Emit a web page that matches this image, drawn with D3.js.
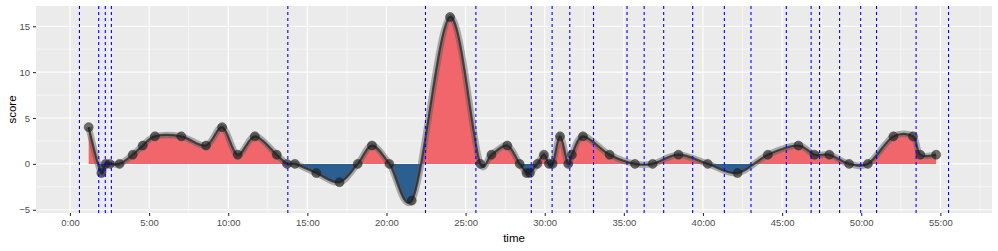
<!DOCTYPE html>
<html>
<head>
<meta charset="utf-8">
<script src="https://cdn.jsdelivr.net/npm/d3@7"></script>
<style>
  body { margin: 0; background: #fff; }
  svg { display: block; }
</style>
</head>
<body>
<svg id="chart" width="998" height="251"></svg>
<script>
// data (time as m:ss)
var pointTimes = ["1:11","1:59","2:15","2:31","3:08","3:58","4:36","5:22","7:02","8:36",
  "9:37","10:36","11:41","13:04","13:43","14:13","15:34","17:02","18:11","19:05",
  "20:11","21:36","24:01","25:56","26:38","27:38","28:25","28:51","29:04","29:32",
  "29:57","30:16","30:30","30:58","31:29","31:43","32:25","34:06","35:42","36:49",
  "38:27","40:18","42:11","44:06","46:02","47:03","47:59","49:14","50:25","52:02",
  "53:16","53:44","54:44"];
var pointScores = [4,-1,0,0,0,1,2,3,3,2,
  4,1,3,1,0,0,-1,-2,0,2,
  0,-4,16,0,1,2,0,-1,-1,0,
  1,0,0,3,0,1,3,1,0,0,
  1,0,-1,1,2,1,1,0,0,3,
  3,1,1];
var markerTimes = ["0:36","1:49","2:14","2:37","13:46","22:28","25:39","29:09","30:28","31:35",
  "33:05","35:12","36:17","37:31","39:21","41:21","43:02","45:16","46:50","47:22",
  "48:38","49:58","50:58","53:28","55:31"];
var xTickLabels = ["0:00","5:00","10:00","15:00","20:00","25:00","30:00","35:00","40:00","45:00","50:00","55:00"];
var yTicks = [-5, 0, 5, 10, 15];

function toMin(s) {
  var p = s.split(":");
  return +p[0] + (+p[1]) / 60;
}

var data = pointTimes.map(function(t, i) { return {t: toMin(t), v: pointScores[i]}; });
var markers = markerTimes.map(toMin);
var xTickVals = xTickLabels.map(toMin);

var svg = d3.select("#chart");
var panel = {left: 36, right: 992, top: 6, bottom: 213};

// ggplot style 5% expansion on the x range of the marker lines
var xmin = d3.min(markers), xmax = d3.max(markers), xpad = (xmax - xmin) * 0.05;
var x = d3.scaleLinear().domain([xmin - xpad, xmax + xpad]).range([panel.left, panel.right]);
var y = d3.scaleLinear().domain([-5.35, 17.2]).range([panel.bottom, panel.top]);

var font = "'Liberation Sans', Arial, sans-serif";

// panel background
svg.append("rect")
  .attr("x", panel.left).attr("y", panel.top)
  .attr("width", panel.right - panel.left).attr("height", panel.bottom - panel.top)
  .attr("fill", "#EBEBEB");

var grid = svg.append("g");
// minor grid
var xMinor = d3.range(-2.5, 60, 5).filter(function(d) { return d > x.domain()[0] && d < x.domain()[1]; });
var yMinor = [-2.5, 2.5, 7.5, 12.5];
grid.selectAll(".xminor").data(xMinor).enter().append("line")
  .attr("x1", x).attr("x2", x).attr("y1", panel.top).attr("y2", panel.bottom)
  .attr("stroke", "#fff").attr("stroke-width", 0.55);
grid.selectAll(".yminor").data(yMinor).enter().append("line")
  .attr("y1", y).attr("y2", y).attr("x1", panel.left).attr("x2", panel.right)
  .attr("stroke", "#fff").attr("stroke-width", 0.55);
// major grid
grid.selectAll(".xmajor").data(xTickVals).enter().append("line")
  .attr("x1", x).attr("x2", x).attr("y1", panel.top).attr("y2", panel.bottom)
  .attr("stroke", "#fff").attr("stroke-width", 1.1);
grid.selectAll(".ymajor").data(yTicks).enter().append("line")
  .attr("y1", y).attr("y2", y).attr("x1", panel.left).attr("x2", panel.right)
  .attr("stroke", "#fff").attr("stroke-width", 1.1);

// clips for positive / negative fill
var defs = svg.append("defs");
defs.append("clipPath").attr("id", "clipPos").append("rect")
  .attr("x", panel.left).attr("y", panel.top)
  .attr("width", panel.right - panel.left).attr("height", y(0) - panel.top);
defs.append("clipPath").attr("id", "clipNeg").append("rect")
  .attr("x", panel.left).attr("y", y(0))
  .attr("width", panel.right - panel.left).attr("height", panel.bottom - y(0));

var curve = d3.curveCatmullRom.alpha(0.2);
var area = d3.area()
  .x(function(d) { return x(d.t); })
  .y0(y(0))
  .y1(function(d) { return y(d.v); })
  .curve(curve);
var line = d3.line()
  .x(function(d) { return x(d.t); })
  .y(function(d) { return y(d.v); })
  .curve(curve);

svg.append("path").datum(data).attr("d", area)
  .attr("fill", "#F0666A").attr("clip-path", "url(#clipPos)");
svg.append("path").datum(data).attr("d", area)
  .attr("fill", "#2C5F91").attr("clip-path", "url(#clipNeg)");

// smoothed line with grey halo
svg.append("path").datum(data).attr("d", line)
  .attr("fill", "none").attr("stroke", "#555").attr("stroke-opacity", 0.45)
  .attr("stroke-width", 6.5).attr("stroke-linejoin", "round");
svg.append("path").datum(data).attr("d", line)
  .attr("fill", "none").attr("stroke", "#2b2b2b").attr("stroke-opacity", 0.8)
  .attr("stroke-width", 2.2).attr("stroke-linejoin", "round");

// points
svg.selectAll(".pt").data(data).enter().append("circle")
  .attr("cx", function(d) { return x(d.t); })
  .attr("cy", function(d) { return y(d.v); })
  .attr("r", 4.5)
  .attr("fill", "#1a1a1a").attr("fill-opacity", 0.6)
  .attr("stroke", "#1a1a1a").attr("stroke-opacity", 0.4);

// marker lines
svg.selectAll(".vline").data(markers).enter().append("line")
  .attr("x1", x).attr("x2", x).attr("y1", panel.top).attr("y2", panel.bottom)
  .attr("stroke", "#0000FF").attr("stroke-width", 1.1)
  .attr("stroke-dasharray", "3,3");

// axes
var xAxis = svg.append("g")
  .attr("transform", "translate(0," + panel.bottom + ")")
  .call(d3.axisBottom(x).tickValues(xTickVals).tickSize(3).tickPadding(3)
    .tickFormat(function(d, i) { return xTickLabels[i]; }));
var yAxis = svg.append("g")
  .attr("transform", "translate(" + panel.left + ",0)")
  .call(d3.axisLeft(y).tickValues(yTicks).tickSize(3).tickPadding(3));

[xAxis, yAxis].forEach(function(a) {
  a.select(".domain").remove();
  a.selectAll(".tick line").attr("stroke", "#333333").attr("stroke-width", 1.1);
  a.selectAll(".tick text").attr("fill", "#4D4D4D")
    .style("font-family", font).style("font-size", "9.5px");
});

// axis titles
svg.append("text")
  .attr("x", (panel.left + panel.right) / 2).attr("y", 242)
  .attr("text-anchor", "middle")
  .style("font-family", font).style("font-size", "11.5px")
  .text("time");
svg.append("text")
  .attr("transform", "translate(16," + ((panel.top + panel.bottom) / 2) + ") rotate(-90)")
  .attr("text-anchor", "middle")
  .style("font-family", font).style("font-size", "11.5px")
  .text("score");
</script>
</body>
</html>
